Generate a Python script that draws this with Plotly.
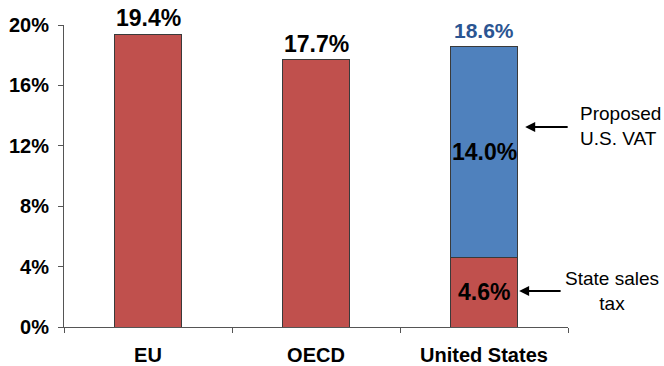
import plotly.graph_objects as go

categories = ["EU", "OECD", "United States"]
base_values = [19.4, 17.7, 4.6]
vat_values = [None, None, 14.0]
total_labels = ["19.4%", "17.7%", "18.6%"]
tick_vals = [0, 4, 8, 12, 16, 20]
tick_text = ["0%", "4%", "8%", "12%", "16%", "20%"]

RED = "#C0504D"
BLUE = "#4F81BD"
FONT = "Arial, Liberation Sans, sans-serif"

fig = go.Figure()
fig.add_trace(go.Bar(x=categories, y=base_values, marker=dict(color=RED, line=dict(color="#3a3a3a", width=1)),
                     width=0.4, hoverinfo="skip"))
fig.add_trace(go.Bar(x=categories, y=vat_values, marker=dict(color=BLUE, line=dict(color="#3a3a3a", width=1)),
                     width=0.4, hoverinfo="skip"))

annotations = []
for i, c in enumerate(categories):
    total = (base_values[i] or 0) + (vat_values[i] or 0)
    stacked = vat_values[i] is not None
    annotations.append(dict(x=c, y=total, text=total_labels[i], showarrow=False, yanchor="bottom",
                            yshift=1 if not stacked else 2,
                            font=dict(family=FONT, size=23 if not stacked else 21,
                                      color="#2B5592" if stacked else "#000000", weight="bold")))
us = 2
annotations.append(dict(x=categories[us], y=base_values[us] / 2, text=f"{base_values[us]:.1f}%", showarrow=False,
                        font=dict(family=FONT, size=23, color="#000", weight="bold"), yanchor="middle"))
annotations.append(dict(x=categories[us], y=base_values[us] + vat_values[us] / 2, text=f"{vat_values[us]:.1f}%",
                        showarrow=False, font=dict(family=FONT, size=23, color="#000", weight="bold"),
                        yanchor="middle"))
annotations.append(dict(xref="paper", yref="y", x=0.915, y=13.25, ax=44, ay=0, text="", showarrow=True,
                        arrowhead=2, arrowsize=1, arrowwidth=2, arrowcolor="#000"))
annotations.append(dict(xref="paper", yref="y", x=0.903, y=2.38, ax=43, ay=0, text="", showarrow=True,
                        arrowhead=2, arrowsize=1, arrowwidth=2, arrowcolor="#000"))
annotations.append(dict(xref="paper", yref="y", x=1.02, y=13.3, xanchor="left", yanchor="middle", align="left",
                        text="Proposed<br>U.S. VAT", showarrow=False, font=dict(family=FONT, size=19, color="#000")))
annotations.append(dict(xref="paper", yref="y", x=1.087, y=2.4, xanchor="center", yanchor="middle", align="center",
                        text="State sales<br>tax", showarrow=False, font=dict(family=FONT, size=19, color="#000")))

fig.update_layout(
    barmode="stack",
    width=664, height=366,
    margin=dict(l=64, r=96, t=25, b=39, pad=0),
    plot_bgcolor="white", paper_bgcolor="white",
    showlegend=False,
    annotations=annotations,
    font=dict(family=FONT, color="#000"),
    xaxis=dict(showline=True, linecolor="#555", linewidth=1, ticks="outside", tickson="boundaries",
               ticklen=5, tickcolor="#555", tickfont=dict(family=FONT, size=20, color="#000", weight="bold"),
               ticklabelstandoff=10, showgrid=False, automargin=False),
    yaxis=dict(range=[0, 20], tickvals=tick_vals, ticktext=tick_text, showline=True, linecolor="#555",
               linewidth=1, ticks="outside", ticklen=5, tickcolor="#555", showgrid=False, zeroline=False,
               tickfont=dict(family=FONT, size=20, color="#000", weight="bold"), ticklabelstandoff=5,
               automargin=False),
)

fig.write_html("out.html")
